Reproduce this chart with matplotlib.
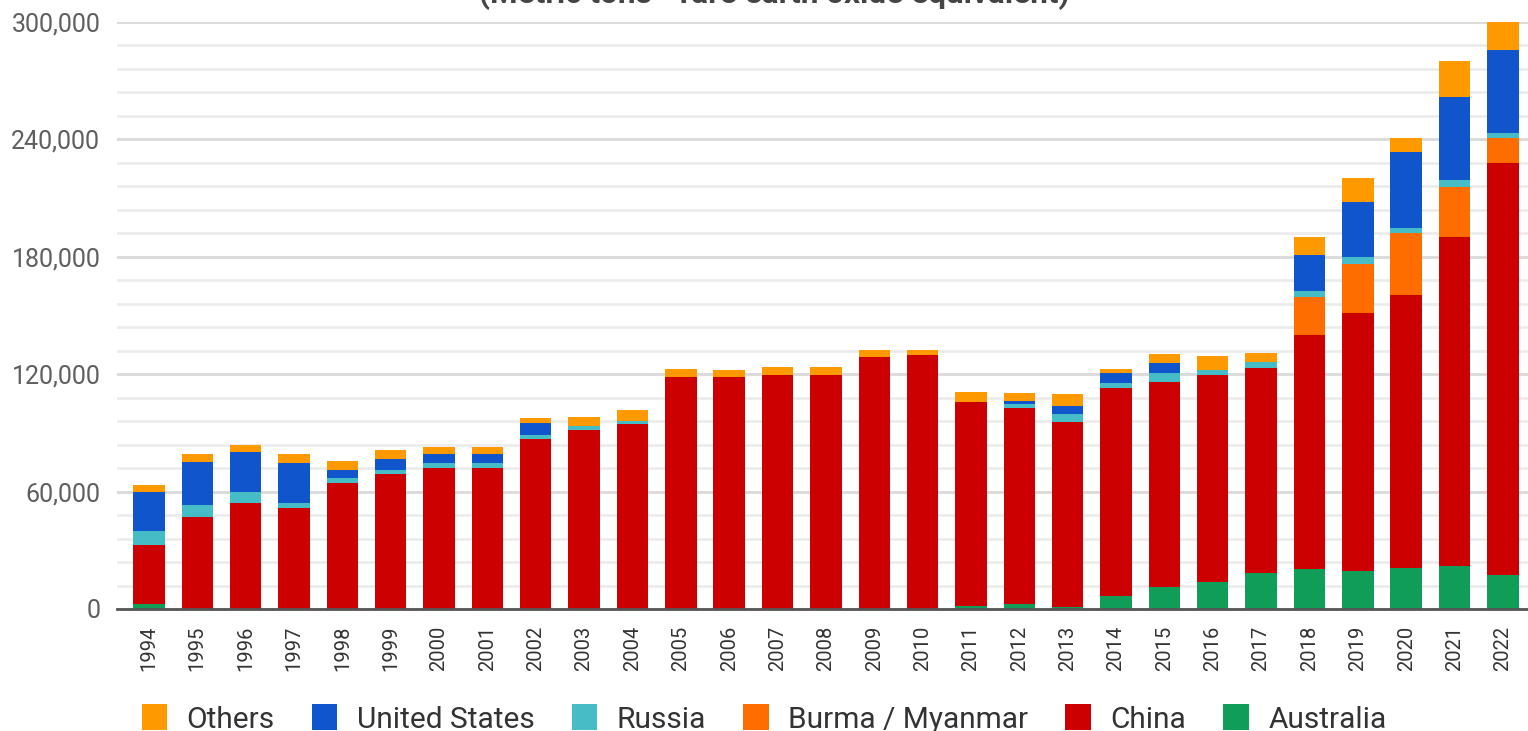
import numpy as np
import matplotlib
matplotlib.use("Agg")
import matplotlib.pyplot as plt
from matplotlib.patches import Patch

plt.rcParams["font.family"] = ["Roboto", "DejaVu Sans"]

years = [str(y) for y in range(1994, 2023)]

# metric tons, rare earth oxide equivalent
australia = [2400, 0, 0, 0, 0, 0, 0, 0, 0, 0, 0, 0, 0, 0, 0, 0, 0,
             1500, 2400, 1200, 6800, 11400, 13800, 18200, 20300, 19400, 20800, 22000, 17400]
china = [30300, 47200, 54000, 51800, 64200, 69000, 72200, 72200, 86900, 91500, 94500,
         118400, 118400, 119600, 119600, 128600, 129800, 104400, 100100, 94200, 106000,
         104800, 105600, 104800, 119700, 132000, 139700, 167900, 210700]
burma = [0] * 24 + [19300, 24700, 31500, 25900, 12400]
russia = [7300, 5900, 5900, 2500, 2600, 2000, 2300, 2300, 2000, 2000, 1600,
          0, 0, 0, 0, 0, 0, 0,
          2300, 4100, 2500, 4200, 2900, 3400, 3400, 3600, 2500, 3400, 2600]
united_states = [19900, 22200, 20500, 20200, 4200, 5500, 4500, 4500, 6000,
                 0, 0, 0, 0, 0, 0, 0, 0, 0,
                 1500, 4200, 5100, 5200, 0, 0, 18200, 28100, 39200, 42600, 42500]
others = [3500, 3900, 3400, 4500, 4800, 4700, 3600, 3600, 2500, 4800, 5600, 4100, 3700,
          3900, 3900, 3700, 2500, 5100, 3900, 6200, 2100, 4500, 6800, 4600, 9000, 12300,
          6800, 18400, 14300]

series = [
    ("Australia", australia, "#109d58"),
    ("China", china, "#cc0000"),
    ("Burma / Myanmar", burma, "#ff6d01"),
    ("Russia", russia, "#46bdc6"),
    ("United States", united_states, "#1155cc"),
    ("Others", others, "#ff9900"),
]

fig = plt.figure(figsize=(15.28, 7.31), dpi=100)
ax = fig.add_axes([117 / 1528, 122 / 731, 1 - 117 / 1528, 587 / 731])

x = np.arange(len(years))
bottom = np.zeros(len(years))
for name, vals, color in series:
    vals = np.array(vals, dtype=float)
    ax.bar(x, vals, bottom=bottom, width=0.65, color=color, linewidth=0, zorder=3)
    bottom += vals

ax.set_xlim(-0.66, 28.52)
ax.set_ylim(0, 300000)

# gridlines: major every 60k, minor every 12k
ax.set_yticks(np.arange(0, 300001, 60000))
ax.set_yticks(np.arange(0, 300001, 12000), minor=True)
ax.yaxis.grid(True, which="major", color="#d9d9d9", linewidth=2, zorder=0)
ax.yaxis.grid(True, which="minor", color="#ececec", linewidth=2, zorder=0)
ax.set_yticklabels([f"{v:,}" for v in range(0, 300001, 60000)])
ax.tick_params(axis="y", which="both", length=0, pad=12, labelsize=18, labelcolor="#5f5f5f")

ax.set_xticks(x)
ax.set_xticklabels(years, rotation=90)
ax.tick_params(axis="x", length=0, pad=12, labelsize=14.5, labelcolor="#333333")

for s in ["top", "right", "left"]:
    ax.spines[s].set_visible(False)
ax.spines["bottom"].set_color("#555555")
ax.spines["bottom"].set_linewidth(2)
ax.spines["bottom"].set_zorder(4)

# title sits mostly above the top edge, as in the source
fig.text(774 / 1528, 1 - 3 / 731, "(Metric tons - rare earth oxide equivalent)", ha="center",
         va="baseline", fontsize=22.7, fontweight="bold", color="#444444")

handles = [Patch(facecolor=c, label=n) for n, v, c in series[::-1]]
fig.legend(handles=handles, loc="center", bbox_to_anchor=(0.5, 12 / 731), ncol=6,
           frameon=False, fontsize=21.5, handlelength=0.85, handleheight=0.95,
           handletextpad=0.65, columnspacing=1.25, borderpad=0, labelcolor="#333333")

fig.savefig("out.png", dpi=100)
